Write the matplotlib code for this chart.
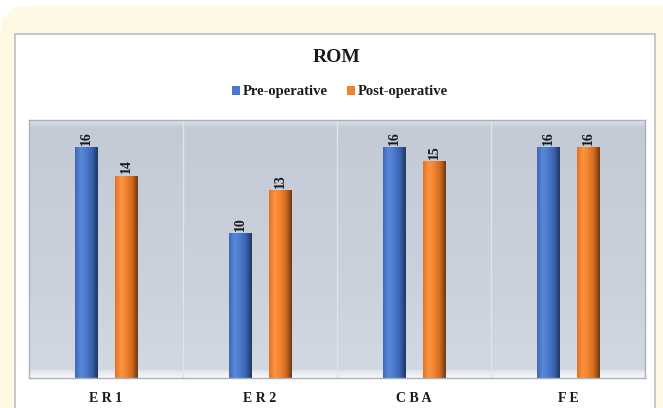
import numpy as np
import matplotlib
matplotlib.use("Agg")
import matplotlib.pyplot as plt
from matplotlib.patches import FancyBboxPatch, Rectangle
from matplotlib.colors import LinearSegmentedColormap

# data
categories = ["ER1", "ER2", "CBA", "FE"]
pre_op = [16, 10, 16, 16]
post_op = [14, 13, 15, 16]
series_names = ["Pre-operative", "Post-operative"]

plt.rcParams["font.family"] = ["Liberation Serif", "DejaVu Serif"]

W, H = 663, 408
fig = plt.figure(figsize=(W / 100, H / 100), dpi=100)
fig.patch.set_facecolor("white")

# cream rounded card behind the chart
card = FancyBboxPatch((0, -0.2), 1.05, (H - 6) / H + 0.2, boxstyle="round,pad=0,rounding_size=0.045",
                      transform=fig.transFigure, facecolor="#fff8e4", edgecolor="none",
                      mutation_aspect=W / H, zorder=-3)
fig.patches.append(card)
# white chart panel
fig.patches.append(Rectangle((14 / W, -0.02), (656 - 14) / W, (H - 33) / H + 0.02,
                             transform=fig.transFigure, facecolor="#c9c9c9", edgecolor="none", zorder=-2))
fig.patches.append(Rectangle((16 / W, -0.02), (654 - 16) / W, (H - 35) / H + 0.02,
                             transform=fig.transFigure, facecolor="white", edgecolor="none", zorder=-1))

ax = fig.add_axes([29 / W, 1 - 378 / H, 616 / W, 258 / H])
ax.set_xlim(-0.5, 3.5)
ax.set_ylim(0, 17.9)

# plot background gradient
bg = LinearSegmentedColormap.from_list("bg", ["#d3d9e2", "#cbd2dc", "#c7ced9", "#c3cad6"])
grad = np.linspace(0, 1, 256).reshape(-1, 1)
ax.imshow(grad, extent=[0, 1, 0, 1], transform=ax.transAxes, aspect="auto",
          cmap=bg, origin="lower", zorder=0)
ax.imshow(np.linspace(1, 0, 20).reshape(-1, 1), extent=[0, 1, 0, 0.03], transform=ax.transAxes,
          aspect="auto", cmap=LinearSegmentedColormap.from_list("fl", ["#dfe3e9", "#f7f8fa"]),
          origin="lower", zorder=0.5)
ax.imshow(np.linspace(0, 1, 20).reshape(-1, 1), extent=[0, 1, 0.97, 1], transform=ax.transAxes,
          aspect="auto", cmap=LinearSegmentedColormap.from_list("tp", ["#c3cad6", "#dde2e9"]),
          origin="lower", zorder=0.5)

for g in [0.5, 1.5, 2.5]:
    ax.axvline(g, color="#dfe3ea", lw=1, zorder=1)

x = np.arange(len(categories))
off = 0.13
bw = 0.145
blue_cmap = LinearSegmentedColormap.from_list("b", ["#3f68b8", "#5a88d8", "#4a78cc", "#3a62ad", "#1f3763"])
orange_cmap = LinearSegmentedColormap.from_list("o", ["#e47222", "#fb9440", "#f0822f", "#d06a1e", "#6b3a14"])

bars_pre = ax.bar(x - off, pre_op, bw, color="#4a78cc", label=series_names[0], zorder=2)
bars_post = ax.bar(x + off, post_op, bw, color="#f0822f", label=series_names[1], zorder=2)

hgrad = np.linspace(0, 1, 64).reshape(1, -1)
for bars, cm in [(bars_pre, blue_cmap), (bars_post, orange_cmap)]:
    for b in bars:
        x0, y0 = b.get_x(), b.get_y()
        ax.imshow(hgrad, extent=[x0, x0 + b.get_width(), y0, y0 + b.get_height()],
                  aspect="auto", cmap=cm, zorder=2.5)

for xs, vals in [(x - off, pre_op), (x + off, post_op)]:
    for xi, v in zip(xs, vals):
        ax.text(xi, v + 0.2, str(v), rotation=90, ha="center", va="bottom",
                fontsize=10, fontweight="bold", color="#1a1a1a", zorder=3)

ax.set_xlim(-0.5, 3.5)
ax.set_ylim(0, 17.9)
ax.set_yticks([])
ax.set_xticks(x)
ax.set_xticklabels([" ".join(c) for c in categories],
                   fontsize=10, fontweight="bold", color="#1a1a1a")
ax.tick_params(axis="x", length=0, pad=10)
for s in ax.spines.values():
    s.set_color("#a9b1bd")
    s.set_linewidth(1)

fig.text(337 / W, 1 - 58 / H, "ROM", ha="center", va="center", fontsize=14,
         fontweight="bold", color="#1a1a1a")
leg = ax.legend(loc="center", bbox_to_anchor=(340 / W, 1 - 92 / H), bbox_transform=fig.transFigure,
                ncol=2, frameon=False, handlelength=0.55, handleheight=0.55, handletextpad=0.2,
                columnspacing=1.3, prop={"weight": "bold", "size": 10.5})
for t in leg.get_texts():
    t.set_color("#1a1a1a")

fig.savefig("out.png", dpi=100)
